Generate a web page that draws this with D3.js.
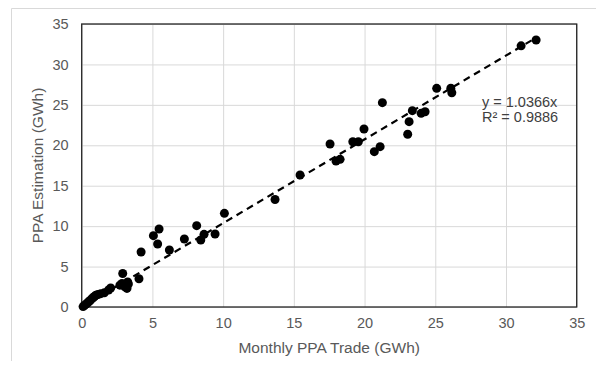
<!DOCTYPE html>
<html><head><meta charset="utf-8">
<script src="https://cdn.jsdelivr.net/npm/d3@7"></script>
<style>body{margin:0;background:#fff}svg{display:block}text{font-family:"Liberation Sans",Arial,sans-serif}</style>
</head><body><svg id="c" width="596" height="370"></svg>
<script>
const tradeX = [0.1,0.2,0.3,0.4,0.5,0.6,0.7,0.8,0.9,1.0,1.15,1.35,1.6,1.9,2.05,2.7,2.85,2.9,3.05,3.2,3.25,3.3,
  4.05,4.2,5.07,5.47,5.37,6.2,7.26,8.13,8.42,8.65,9.43,10.09,
  13.67,15.44,17.56,17.98,18.27,19.17,19.56,19.96,20.69,21.1,21.26,
  23.05,23.15,23.38,24.0,24.28,25.1,26.1,26.17,31.07,32.13];
const estY = [0.05,0.2,0.35,0.5,0.65,0.8,1.0,1.15,1.3,1.45,1.55,1.65,1.75,2.1,2.35,2.7,2.9,4.15,2.5,2.3,3.1,2.85,
  3.5,6.8,8.82,9.65,7.79,7.05,8.41,10.06,8.29,8.99,9.03,11.58,
  13.3,16.32,20.16,18.06,18.26,20.44,20.44,22.01,19.21,19.83,25.27,
  21.36,22.92,24.28,23.95,24.15,27.04,27.05,26.5,32.3,33.02];
const xTicks = [0,5,10,15,20,25,30,35];
const yTicks = [0,5,10,15,20,25,30,35];
const slope = 1.0366;
const eqLines = ["y = 1.0366x", "R² = 0.9886"];
const xTitle = "Monthly PPA Trade (GWh)";
const yTitle = "PPA Estimation (GWh)";

const svg = d3.select("#c");
const L = 81.7, R = 576.7, T = 24, B = 307;
const x = d3.scaleLinear().domain([0,35]).range([L,R]);
const y = d3.scaleLinear().domain([0,35]).range([B,T]);

// outer frame (top & left visible)
svg.append("line").attr("x1",11.5).attr("x2",596).attr("y1",8.5).attr("y2",8.5).attr("stroke","#d9d9d9");
svg.append("line").attr("x1",11.5).attr("x2",11.5).attr("y1",8.5).attr("y2",361).attr("stroke","#d9d9d9");

// gridlines
svg.append("g").attr("transform",`translate(0,${B})`)
  .call(d3.axisBottom(x).tickValues(xTicks).tickSize(-(B-T)).tickFormat(""))
  .call(g=>g.select(".domain").remove())
  .call(g=>g.selectAll("line").attr("stroke","#d9d9d9").attr("stroke-width",1));
svg.append("g").attr("transform",`translate(${L},0)`)
  .call(d3.axisLeft(y).tickValues(yTicks).tickSize(-(R-L)).tickFormat(""))
  .call(g=>g.select(".domain").remove())
  .call(g=>g.selectAll("line").attr("stroke","#d9d9d9").attr("stroke-width",1));

// tick labels
const xa = svg.append("g").attr("transform",`translate(0,${B})`)
  .call(d3.axisBottom(x).tickValues(xTicks).tickSize(0).tickPadding(11).tickFormat(d3.format("d")));
xa.select(".domain").remove();
xa.selectAll("text").attr("fill","#595959").style("font-size","14.5px").style("font-family","Liberation Sans, Arial, sans-serif");
const ya = svg.append("g").attr("transform",`translate(${L},0)`)
  .call(d3.axisLeft(y).tickValues(yTicks).tickSize(0).tickPadding(13).tickFormat(d3.format("d")));
ya.select(".domain").remove();
ya.selectAll("text").attr("fill","#595959").style("font-size","14.5px").style("font-family","Liberation Sans, Arial, sans-serif");

// plot border
svg.append("rect").attr("x",L).attr("y",T).attr("width",R-L).attr("height",B-T)
  .attr("fill","none").attr("stroke","#262626").attr("stroke-width",1.3);

// trendline
const xMax = d3.max(tradeX);
svg.append("line").attr("x1",x(0)).attr("y1",y(0)).attr("x2",x(xMax)).attr("y2",y(slope*xMax))
  .attr("stroke","#000").attr("stroke-width",2.2).attr("stroke-dasharray","7,5");

// points
svg.append("g").selectAll("circle").data(tradeX.map((v,i)=>[v,estY[i]])).join("circle")
  .attr("cx",d=>x(d[0])).attr("cy",d=>y(d[1])).attr("r",4.5).attr("fill","#000");

// equation
svg.append("g").selectAll("text").data(eqLines).join("text")
  .attr("x",482).attr("y",(d,i)=>107+i*14.5).text(d=>d)
  .attr("fill","#404040").style("font-size","14.5px");

// axis titles
svg.append("text").attr("x",(L+R)/2).attr("y",353).attr("text-anchor","middle")
  .attr("fill","#595959").style("font-size","15.5px").text(xTitle);
svg.append("text").attr("transform",`translate(43,${(T+B)/2}) rotate(-90)`).attr("text-anchor","middle")
  .attr("fill","#595959").style("font-size","15.5px").text(yTitle);
</script></body></html>
